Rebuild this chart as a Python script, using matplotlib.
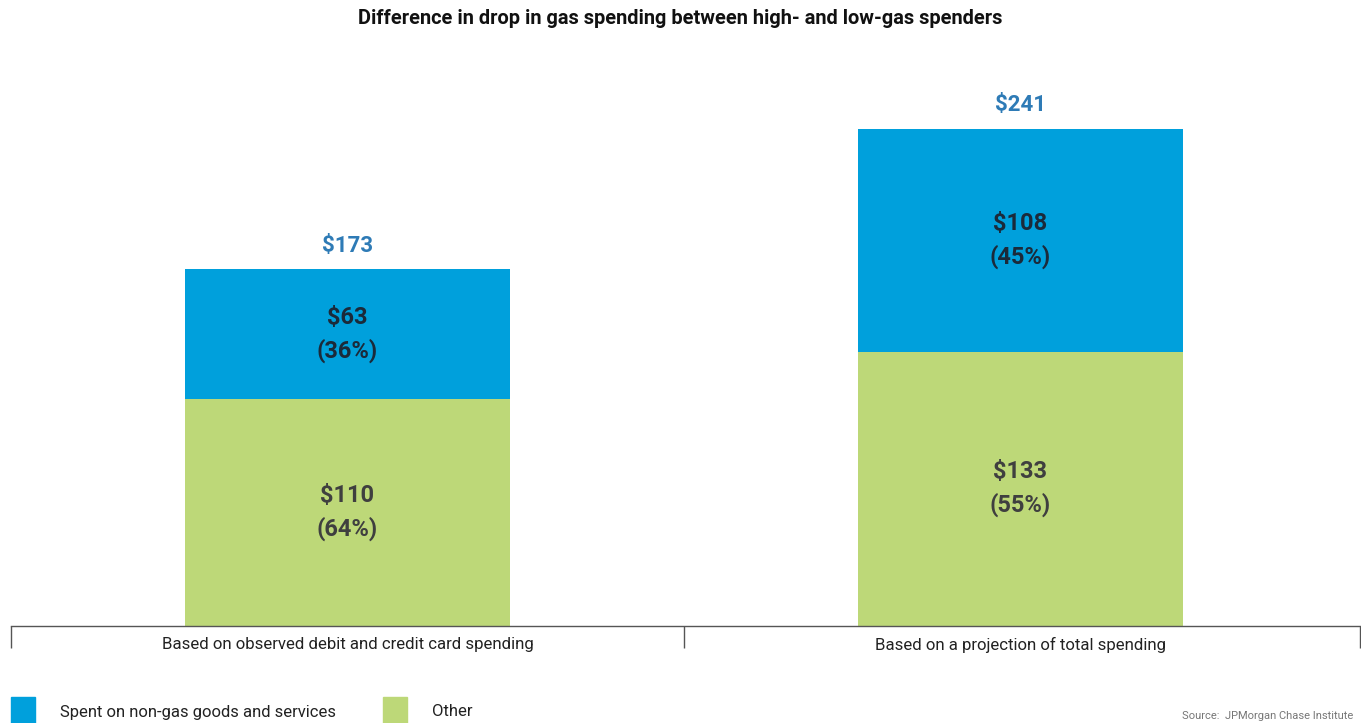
import matplotlib
matplotlib.use("Agg")
import matplotlib.pyplot as plt
from matplotlib.patches import Rectangle

categories = ["Based on observed debit and credit card spending",
              "Based on a projection of total spending"]
other = [110, 133]
non_gas = [63, 108]
other_pct = [64, 55]
non_gas_pct = [36, 45]
totals = [173, 241]
series_names = ["Spent on non-gas goods and services", "Other"]

BLUE = "#00A0DC"
GREEN = "#BDD878"
TOTAL_C = "#2E7BB6"

plt.rcParams['font.family'] = ['Roboto', 'DejaVu Sans']

W, H = 1361, 723
fig = plt.figure(figsize=(W / 100, H / 100), dpi=100)
base_px = 626
ymax = 250
ppu = 2.063
unit = 673.0
ax = fig.add_axes([11 / W, (H - base_px) / H, 1349 / W, ymax * ppu / H])
xr = -0.5 + 1349 / unit
ax.set_xlim(-0.5, xr)
ax.set_ylim(0, ymax)

x = list(range(len(categories)))
bw = 0.483
ax.bar(x, other, width=bw, color=GREEN, zorder=2)
ax.bar(x, non_gas, width=bw, bottom=other, color=BLUE, zorder=2)

for i in x:
    ax.text(i, other[i] / 2, f"${other[i]}\n({other_pct[i]}%)", ha="center", va="center",
            fontsize=17, fontweight="bold", color="#3f3f3f", linespacing=1.5)
    ax.text(i, other[i] + non_gas[i] / 2, f"${non_gas[i]}\n({non_gas_pct[i]}%)", ha="center",
            va="center", fontsize=17, fontweight="bold", color="#1b2a3a", linespacing=1.5)
    ax.text(i, totals[i] + 6, f"${totals[i]}", ha="center", va="bottom",
            fontsize=16, fontweight="bold", color=TOTAL_C)

for s in ["top", "right", "left"]:
    ax.spines[s].set_visible(False)
ax.spines["bottom"].set_color("#555555")
ax.spines["bottom"].set_linewidth(1.0)
ax.set_yticks([])
ax.set_xticks(x)
ax.set_xticklabels(categories, fontsize=12.1, color="#222222")
ax.tick_params(axis="x", length=0, pad=8)
ax.set_xticks([-0.5, 0.5, xr], minor=True)
ax.tick_params(axis="x", which="minor", length=16, width=1.0, color="#555555")

fig.text(0.5, 1 - 18 / H, "Difference in drop in gas spending between high- and low-gas spenders",
         ha="center", va="center", fontsize=14.4, fontweight="bold", color="#111111")

# legend
fig.patches.append(Rectangle((11 / W, 0), 24 / W, 26 / H, transform=fig.transFigure,
                             color=BLUE, figure=fig))
fig.text(60 / W, 1 - 712 / H, series_names[0], ha="left", va="center", fontsize=12, color="#222222")
fig.patches.append(Rectangle((383 / W, 0), 24 / W, 26 / H, transform=fig.transFigure,
                             color=GREEN, figure=fig))
fig.text(432 / W, 1 - 712 / H, series_names[1], ha="left", va="center", fontsize=12, color="#222222")

fig.text(1353 / W, 1 - 716 / H, "Source:  JPMorgan Chase Institute", ha="right", va="center",
         fontsize=8, color="#777777")

fig.savefig("out.png", dpi=100)
